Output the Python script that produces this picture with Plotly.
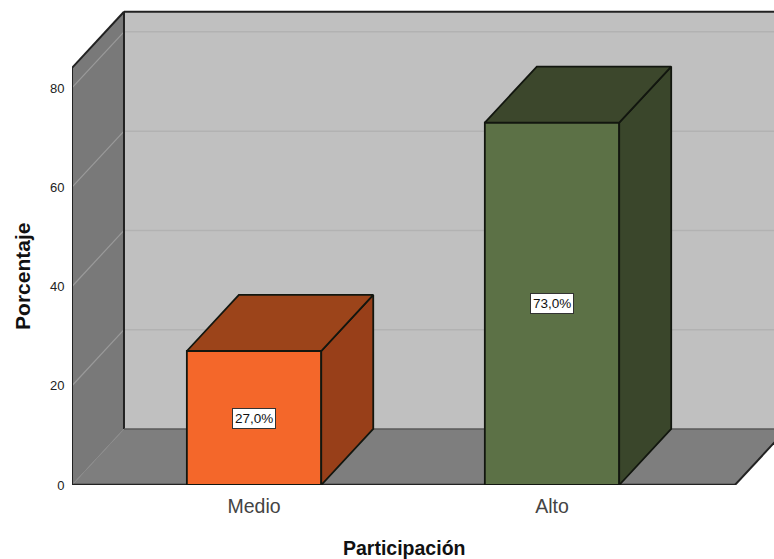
import plotly.graph_objects as go

# Chart content
categories = ["Medio", "Alto"]
percentages = [27.0, 73.0]
value_labels = ["27,0%", "73,0%"]
y_ticks = [0, 20, 40, 60, 80]
x_title = "Participación"
y_title = "Porcentaje"

front_colors = ["#f4672a", "#5c7146"]
top_colors = ["#9c441a", "#3c472c"]
side_colors = ["#983f19", "#3a462b"]

# Canvas and axis geometry
WIDTH, HEIGHT = 774, 559
M_LEFT, M_BOTTOM = 72.4, 73.8
X_MIN, X_MAX = -0.611, 1.745
Y_MIN, Y_MAX = 0, 97.72
BAR_WIDTH = 0.451
DX, DY = 0.1745, 11.3      # oblique depth vector of the 3D box
FRONT_RIGHT = 1.614
WALL_TOP = 84.05

EDGE = "#12160f"
FRAME = "#222222"
SANS = "Liberation Sans, Arial, sans-serif"
x0, x1 = X_MIN, FRONT_RIGHT


def polygon(points, fill, line=None, width=0):
    path = "M " + " L ".join(f"{x},{y}" for x, y in points) + " Z"
    return dict(type="path", path=path, xref="x", yref="y", layer="below",
                fillcolor=fill, line=dict(color=line or fill, width=width))


def segment(xa, ya, xb, yb, color, width):
    return dict(type="line", x0=xa, y0=ya, x1=xb, y1=yb, xref="x", yref="y",
                layer="below", line=dict(color=color, width=width))


shapes = [
    # back wall, side wall and floor
    polygon([(x0 + DX, DY), (x1 + DX, DY), (x1 + DX, WALL_TOP + DY), (x0 + DX, WALL_TOP + DY)], "#c0c0c0"),
    polygon([(x0, 0), (x0 + DX, DY), (x0 + DX, WALL_TOP + DY), (x0, WALL_TOP)], "#797979"),
    polygon([(x0, 0), (x1, 0), (x1 + DX, DY), (x0 + DX, DY)], "#7e7e7e"),
]

# gridlines wrap from the side wall onto the back wall
for tick in y_ticks[1:]:
    shapes.append(segment(x0, tick, x0 + DX, tick + DY, "#9a9a9a", 1.2))
    shapes.append(segment(x0 + DX, tick + DY, x1 + DX, tick + DY, "#b2b2b2", 1.5))
shapes.append(segment(x0, 0, x0 + DX, DY, "#8a8a8a", 1))

# box outline
shapes += [
    segment(x0, 0, x0, WALL_TOP, FRAME, 2),
    segment(x0, WALL_TOP, x0 + DX, WALL_TOP + DY, FRAME, 2),
    segment(x0 + DX, WALL_TOP + DY, x1 + DX, WALL_TOP + DY, FRAME, 2),
    segment(x0 + DX, DY, x0 + DX, WALL_TOP + DY, FRAME, 2),
    segment(x0, 0, x1, 0, FRAME, 2.5),
    segment(x1, 0, x1 + DX, DY, FRAME, 2),
    segment(x0 + DX, DY, x1 + DX, DY, "#5a5a5a", 1.5),
]

fig = go.Figure()

# front faces
fig.add_trace(go.Bar(
    x=list(range(len(categories))), y=percentages, width=BAR_WIDTH,
    marker=dict(color=front_colors, line=dict(color=EDGE, width=1.8)),
    hoverinfo="skip", showlegend=False,
))

# side and top faces of each bar
for i, value in enumerate(percentages):
    left, right = i - BAR_WIDTH / 2, i + BAR_WIDTH / 2
    side_x = [right, right + DX, right + DX, right, right]
    side_y = [0, DY, value + DY, value, 0]
    top_x = [left, right, right + DX, left + DX, left]
    top_y = [value, value, value + DY, value + DY, value]
    for xs, ys, color in ((side_x, side_y, side_colors[i]), (top_x, top_y, top_colors[i])):
        fig.add_trace(go.Scatter(
            x=xs, y=ys, mode="lines", fill="toself", fillcolor=color,
            line=dict(color=EDGE, width=1.8), hoverinfo="skip", showlegend=False,
        ))

annotations = [
    dict(x=i, y=value / 2, xref="x", yref="y", text=value_labels[i], showarrow=False,
         font=dict(family=SANS, size=13.5, color="#111111"),
         bgcolor="white", bordercolor="#333333", borderwidth=1, borderpad=2)
    for i, value in enumerate(percentages)
]

# Axis titles are placed by pixel position, converted to plot-area fractions.
plot_h = HEIGHT - M_BOTTOM
plot_w = WIDTH - M_LEFT
annotations += [
    dict(x=(404 - M_LEFT) / plot_w, y=(plot_h - 548.5) / plot_h, xref="paper", yref="paper",
         text=f"<b>{x_title}</b>", showarrow=False, xanchor="center", yanchor="middle",
         font=dict(family=SANS, size=19.5, color="#111111")),
    dict(x=(23 - M_LEFT) / plot_w, y=(plot_h - 276.5) / plot_h, xref="paper", yref="paper",
         text=f"<b>{y_title}</b>", showarrow=False, textangle=-90, xanchor="center", yanchor="middle",
         font=dict(family=SANS, size=21, color="#111111")),
]

fig.update_layout(
    width=WIDTH, height=HEIGHT,
    margin=dict(l=M_LEFT, r=0, t=0, b=M_BOTTOM, pad=0),
    paper_bgcolor="white", plot_bgcolor="white",
    showlegend=False, shapes=shapes, annotations=annotations,
    xaxis=dict(
        range=[X_MIN, X_MAX], tickmode="array", tickvals=list(range(len(categories))),
        ticktext=categories, showgrid=False, zeroline=False, showline=False,
        ticks="outside", ticklen=4, tickcolor="rgba(0,0,0,0)",
        tickfont=dict(family=SANS, size=19.5, color="#444444"),
    ),
    yaxis=dict(
        range=[Y_MIN, Y_MAX], tickmode="array", tickvals=y_ticks,
        showgrid=False, zeroline=False, showline=False,
        ticks="outside", ticklen=4, tickcolor="rgba(0,0,0,0)",
        tickfont=dict(family=SANS, size=13, color="#222222"),
    ),
)

fig.write_html("out.html", config=dict(displayModeBar=False))
